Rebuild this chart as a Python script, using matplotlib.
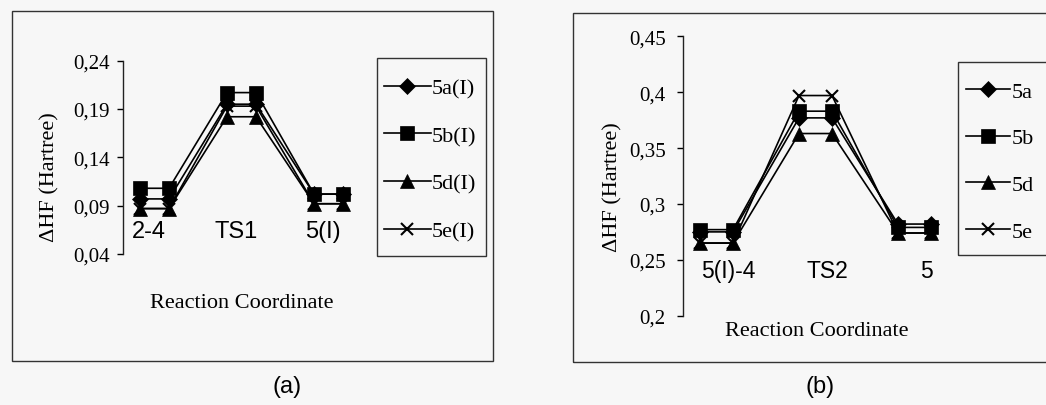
import numpy as np
import matplotlib
matplotlib.use("Agg")
import matplotlib.pyplot as plt
from matplotlib.patches import Rectangle
from matplotlib.lines import Line2D

# ---------------- data ----------------
x_positions = [1, 2, 4, 5, 7, 8]          # two points per state (energy-level plateaus)

states_a = ["2-4", "TS1", "5(I)"]
series_a = ["5a(I)", "5b(I)", "5d(I)", "5e(I)"]
levels_5a_I = [0.097, 0.195, 0.102]
levels_5b_I = [0.108, 0.207, 0.102]
levels_5d_I = [0.087, 0.182, 0.092]
levels_5e_I = [0.087, 0.193, 0.092]
yticks_a = [0.04, 0.09, 0.14, 0.19, 0.24]

states_b = ["5(I)-4", "TS2", "5"]
series_b = ["5a", "5b", "5d", "5e"]
levels_5a = [0.275, 0.377, 0.282]
levels_5b = [0.277, 0.383, 0.279]
levels_5d = [0.265, 0.363, 0.274]
levels_5e = [0.265, 0.397, 0.274]
yticks_b = [0.2, 0.25, 0.3, 0.35, 0.4, 0.45]

markers = ["D", "s", "^", "x"]
marker_sizes = [8.5, 9.5, 9.5, 9]

# ---------------- figure ----------------
W, H = 1046, 406
fig = plt.figure(figsize=(W / 100, H / 100), dpi=100)
fig.patch.set_facecolor("#f7f7f7")

def fx(x):
    return x / W

def fy(y):
    return 1 - y / H

def frame(x0, y0, x1, y1, lw=1.0, ec="#333333"):
    fig.add_artist(Rectangle((fx(x0), fy(y1)), fx(x1) - fx(x0), fy(y0) - fy(y1),
                             transform=fig.transFigure, fill=False, ec=ec, lw=lw))

serif = "Liberation Serif"
sans = "Liberation Sans"

def fmt(v):
    return ("%g" % round(v, 4)).replace(".", ",")

def make_handle(m, ms):
    return dict(color="black", lw=1.2, marker=m, ms=ms, mfc="black", mec="black",
                mew=1.5 if m == "x" else 0.5)

def panel(rect, xlim, ylim, yticks, levels, states, label_y, label_dx,
          cat_size, tick_pad):
    ax = fig.add_axes(rect)
    ax.set_facecolor("none")
    for lv, m, ms in zip(levels, markers, marker_sizes):
        y = np.repeat(lv, 2)
        ax.plot(x_positions, y, **make_handle(m, ms))
    ax.set_xlim(*xlim)
    ax.set_ylim(*ylim)
    ax.set_yticks(yticks)
    ax.set_yticklabels([fmt(v) for v in yticks], fontfamily=serif, fontsize=15)
    ax.set_xticks([])
    for s in ["top", "right", "bottom"]:
        ax.spines[s].set_visible(False)
    ax.spines["left"].set_color("#222222")
    ax.spines["left"].set_linewidth(1.0)
    ax.tick_params(axis="y", direction="out", length=4.5, width=1.0,
                   pad=tick_pad, colors="black")
    centers = [(x_positions[2 * i] + x_positions[2 * i + 1]) / 2 for i in range(3)]
    for c, s in zip(centers, states):
        ax.text(c + label_dx, label_y, s, ha="center", va="center",
                fontfamily=sans, fontsize=cat_size)
    handles = [Line2D([], [], **make_handle(m, ms))
               for m, ms in zip(markers, marker_sizes)]
    return ax, handles

# panel (a)
frame(12, 12, 493, 362)
ax_a, h_a = panel([fx(123), fy(255), fx(360) - fx(123), fy(61.7) - fy(255)],
                  (0.414, 8.586), (0.04, 0.24), yticks_a,
                  [levels_5a_I, levels_5b_I, levels_5d_I, levels_5e_I],
                  states_a, 0.064, -0.2, 17, 5)
frame(377, 59, 486, 257)
fig.legend(h_a, series_a, loc="upper left", bbox_to_anchor=(fx(384), fy(79)),
           frameon=False, prop={"family": serif, "size": 16},
           handlelength=2.1, handletextpad=0.05, labelspacing=1.22,
           borderpad=0, borderaxespad=0)
fig.text(fx(50), fy(177), "ΔHF (Hartree)", rotation=90, ha="center", va="center",
         fontfamily=serif, fontsize=16)
fig.text(fx(242), fy(303), "Reaction Coordinate", ha="center", va="center",
         fontfamily=serif, fontsize=16)
fig.text(fx(287), fy(387), "(a)", ha="center", va="center",
         fontfamily=sans, fontsize=17)

# panel (b)
frame(573, 14, 1052, 363)
ax_b, h_b = panel([fx(683), fy(316.7), fx(950) - fx(683), fy(37.3) - fy(316.7)],
                  (0.485, 8.576), (0.2, 0.45), yticks_b,
                  [levels_5a, levels_5b, levels_5d, levels_5e],
                  states_b, 0.24, 0.35, 16.5, 8)
frame(958, 63, 1060, 256)
fig.legend(h_b, series_b, loc="upper left", bbox_to_anchor=(fx(966), fy(82)),
           frameon=False, prop={"family": serif, "size": 16},
           handlelength=2.0, handletextpad=0.05, labelspacing=1.18,
           borderpad=0, borderaxespad=0)
fig.text(fx(613), fy(187), "ΔHF (Hartree)", rotation=90, ha="center", va="center",
         fontfamily=serif, fontsize=16)
fig.text(fx(817), fy(332), "Reaction Coordinate", ha="center", va="center",
         fontfamily=serif, fontsize=16)
fig.text(fx(820), fy(387), "(b)", ha="center", va="center",
         fontfamily=sans, fontsize=17)

fig.savefig("out.png", dpi=100, facecolor=fig.get_facecolor())
